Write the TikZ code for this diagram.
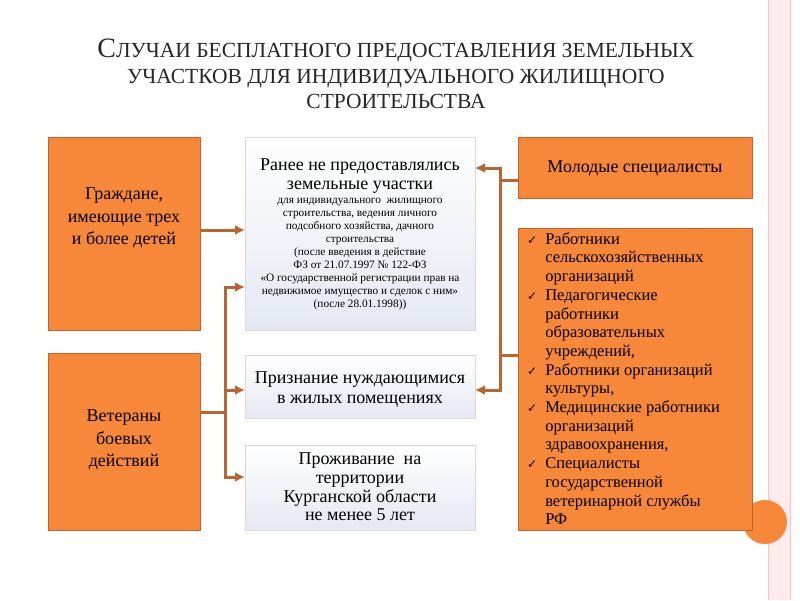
\documentclass[tikz,border=0pt]{standalone}
\usepackage{fontspec}
\setmainfont{Liberation Serif}
\newfontfamily\symf{DejaVu Sans}
\usetikzlibrary{arrows.meta}
\definecolor{org}{HTML}{F7883A}
\definecolor{orgd}{HTML}{C0622A}
\definecolor{lnk}{HTML}{B8652F}
\definecolor{cb}{HTML}{E4E8F2}
\newcommand{\fbig}{\fontsize{18}{20}\selectfont}
\newcommand{\fsml}{\fontsize{11.3}{13}\selectfont}
\newcommand{\ck}{{\symf\fontsize{12}{12}\selectfont ✓}}
\tikzset{
 obox/.style={draw=orgd,fill=org,line width=0.8pt,inner sep=0pt},
 cbox/.style={draw=black!15,line width=1pt,top color=white,bottom color=cb,inner sep=0pt},
 con/.style={draw=lnk,line width=3pt},
 arr/.style={con,-{Latex[length=10pt,width=10pt]}},
 txt/.style={align=center,font=\fbig},
}
\begin{document}
\begin{tikzpicture}[x=1pt,y=-1pt]
\useasboundingbox (0,0) rectangle (800,600);
\fill[white] (0,0) rectangle (800,600);
\fill[red!8] (768,0) rectangle (790,600);
\draw[red!25] (768,0)--(768,600) (790,0)--(790,600);
\fill[org] (765,522) circle (22);
\node[font=\fontsize{21.5}{25.5}\selectfont,align=center,text=black!85] (title) at (396,74)
 {{\fontsize{28}{25}\selectfont С}ЛУЧАИ БЕСПЛАТНОГО ПРЕДОСТАВЛЕНИЯ ЗЕМЕЛЬНЫХ\\
  УЧАСТКОВ ДЛЯ ИНДИВИДУАЛЬНОГО ЖИЛИЩНОГО\\ СТРОИТЕЛЬСТВА};
\path[obox] (48,137) rectangle (200,330);
\node[txt,font=\fontsize{18}{22.5}\selectfont] (l1) at (124,218) {Граждане,\\имеющие трех\\и более детей};
\path[obox] (48,353) rectangle (200,530);
\node[txt,font=\fontsize{18}{22.5}\selectfont] (l2) at (124,440) {Ветераны\\боевых\\действий};
\path[cbox] (245,137) rectangle (475,330);
\node[txt,font=\fontsize{18}{19}\selectfont] (c1) at (360,176) {Ранее не предоставлялись\\земельные участки};
\node[align=center,font=\fsml] (c1b) at (360,254)
 {для индивидуального~ жилищного\\ строительства, ведения личного\\ подсобного хозяйства, дачного\\ строительства\\
 (после введения в действие\\ ФЗ от 21.07.1997 № 122-ФЗ\\
 «О государственной регистрации прав на\\ недвижимое имущество и сделок с ним»\\ (после 28.01.1998))};
\path[cbox] (245,355) rectangle (475,418);
\node[txt] (c2) at (360,389) {Признание нуждающимися\\в жилых помещениях};
\path[cbox] (245,445) rectangle (475,530);
\node[txt,font=\fontsize{18}{18.7}\selectfont] (c3) at (360,487) {Проживание~ на\\территории\\Курганской области\\не менее 5 лет};
\path[obox] (518,137) rectangle (752,198);
\node[txt] (r1) at (635,168) {Молодые специалисты};
\path[obox] (518,228) rectangle (752,530);
\node[anchor=north west,font=\fontsize{16.5}{18.7}\selectfont,inner sep=0pt] (r2) at (527,231)
 {\begin{tabular}{@{}l@{\hspace{8pt}}l@{}}
 \ck & Работники\\ & сельскохозяйственных\\ & организаций\\
 \ck & Педагогические\\ & работники\\ & образовательных\\ & учреждений,\\
 \ck & Работники организаций\\ & культуры,\\
 \ck & Медицинские работники\\ & организаций\\ & здравоохранения,\\
 \ck & Специалисты\\ & государственной\\ & ветеринарной службы\\ & РФ
 \end{tabular}};
\coordinate (jl) at (225,412);
\coordinate (jr) at (500,180);
\draw[arr] (200,230) -- (245,230);
\draw[con] (200,412) -- (jl);
\draw[con] (225,287) -- (225,477);
\draw[arr] (223.5,287) -- (245,287);
\draw[arr] (225,390) -- (245,390);
\draw[arr] (223.5,477) -- (245,477);
\draw[con] (518,180) -- (jr);
\draw[con] (500,168) -- (500,390);
\draw[con] (518,355) -- (500,355);
\draw[arr] (501.5,168) -- (475,168);
\draw[arr] (501.5,390) -- (475,390);
\end{tikzpicture}
\end{document}
